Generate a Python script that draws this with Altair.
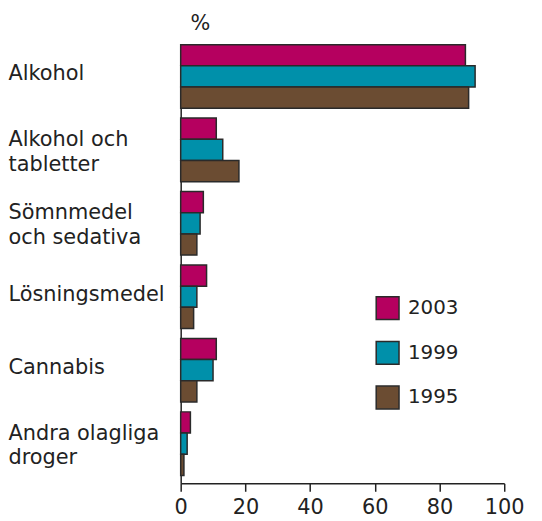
import altair as alt
import pandas as pd

categories = ["Alkohol", "Alkohol och|tabletter", "Sömnmedel|och sedativa",
              "Lösningsmedel", "Cannabis", "Andra olagliga|droger"]
years = ["2003", "1999", "1995"]
v2003 = [88, 11, 7, 8, 11, 3]
v1999 = [91, 13, 6, 5, 10, 2]
v1995 = [89, 18, 5, 4, 5, 1]
colors = ["#B5005F", "#0090AA", "#6B4C32"]
x_ticks = [0, 20, 40, 60, 80, 100]
unit_label = ["%"]

rows = []
for yr, vals in zip(years, [v2003, v1999, v1995]):
    for c, v in zip(categories, vals):
        rows.append({"cat": c, "year": yr, "value": v})
df = pd.DataFrame(rows)

FONT = "DejaVu Sans"
TXT = "#222222"

bars = alt.Chart(df).mark_bar(stroke="#2a2a2a", strokeWidth=1.5).encode(
    x=alt.X("value:Q",
            scale=alt.Scale(domain=[0, 100], nice=False),
            axis=alt.Axis(values=x_ticks, title=None, grid=False, tickSize=8,
                          tickColor=TXT, domainColor=TXT, domainWidth=1.5,
                          tickWidth=1.5, labelFontSize=21, labelFont=FONT,
                          labelColor=TXT, labelPadding=5, labelFlush=False)),
    y=alt.Y("cat:N", sort=categories,
            scale=alt.Scale(paddingInner=0.135, paddingOuter=0.054, align=0),
            axis=alt.Axis(title=None, ticks=False, domainColor=TXT, domainWidth=1.5,
                          labelAlign="left", labelPadding=174, labelBaseline="middle",
                          labelFontSize=21, labelFont=FONT, labelColor=TXT,
                          labelLineHeight=25, labelLimit=0,
                          labelOffset={"condition": {"test": "indexof(datum.label, '|') >= 0",
                                                     "value": -10},
                                       "value": -2},
                          labelExpr="split(datum.label, '|')")),
    yOffset=alt.YOffset("year:N", scale=alt.Scale(domain=years)),
    fill=alt.Fill("year:N",
                  scale=alt.Scale(domain=years, range=colors),
                  legend=alt.Legend(title=None, orient="none", legendX=196, legendY=253,
                                    symbolType="square", symbolSize=529,
                                    symbolStrokeColor="#2a2a2a", symbolStrokeWidth=1.5,
                                    labelFontSize=20, labelFont=FONT, labelColor=TXT,
                                    labelOffset=8, rowPadding=16, padding=0)),
)

unit = alt.Chart(pd.DataFrame({"t": unit_label})).mark_text(
    font=FONT, fontSize=21, color=TXT, align="left", baseline="alphabetic"
).encode(text="t:N", x=alt.value(10), y=alt.value(-15))

chart = alt.layer(bars, unit).properties(
    width=326,
    height=442,
    padding={"left": 174, "top": 35, "right": 30, "bottom": 36},
    autosize=alt.AutoSizeParams(type="none"),
).configure_view(stroke=None)

chart.save("out.html", embed_options={"renderer": "svg", "actions": False})
